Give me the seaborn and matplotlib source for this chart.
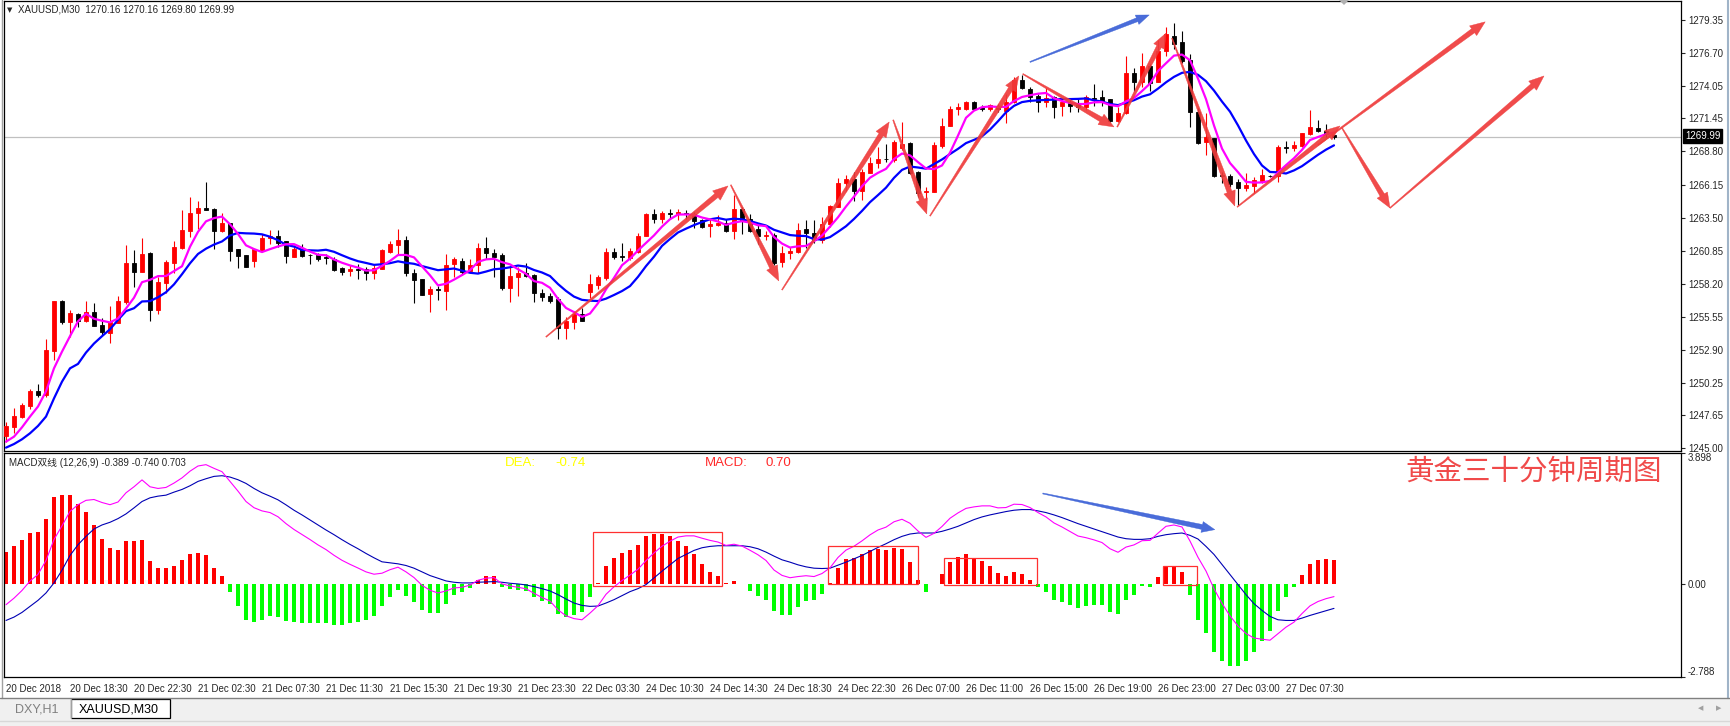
import numpy as np
import pandas as pd
import matplotlib
matplotlib.use('Agg')
import matplotlib.pyplot as plt
import seaborn as sns
from matplotlib.patches import Polygon, Rectangle
from matplotlib.transforms import IdentityTransform

# ---------------- data (XAUUSD M30) ----------------
opens = [
    1245.99, 1246.73, 1247.54, 1248.39, 1249.62, 1249.27, 1252.83, 1256.81, 1255.16, 1255.77,
    1255.23, 1255.90, 1254.89, 1254.27, 1255.07, 1256.73, 1259.84, 1259.16, 1260.64, 1256.09,
    1258.23, 1259.89, 1261.04, 1262.45, 1263.84, 1264.24, 1264.16, 1262.42, 1263.04, 1260.96,
    1260.50, 1259.98, 1260.85, 1261.89, 1262.02, 1261.62, 1260.37, 1261.01, 1260.53, 1260.53,
    1260.37, 1260.21, 1259.48, 1259.19, 1259.41, 1259.35, 1259.03, 1259.41, 1260.77, 1261.33,
    1261.70, 1259.06, 1258.60, 1257.40, 1257.77, 1257.64, 1259.75, 1260.02, 1259.22, 1259.70,
    1261.04, 1260.69, 1260.50, 1257.83, 1258.76, 1259.09, 1258.90, 1257.43, 1257.22, 1256.95,
    1254.62, 1255.10, 1255.77, 1257.56, 1258.12, 1258.63, 1260.77, 1260.42, 1260.29, 1260.72,
    1262.05, 1263.79, 1263.39, 1263.84, 1263.76, 1263.87, 1263.76, 1263.28, 1262.85, 1262.90,
    1263.09, 1262.45, 1264.19, 1263.36, 1262.59, 1262.02, 1262.10, 1259.91, 1260.64, 1260.74,
    1262.56, 1262.24, 1261.70, 1262.96, 1264.38, 1266.25, 1266.57, 1265.66, 1267.10, 1267.85,
    1268.22, 1268.14, 1269.06, 1269.46, 1267.16, 1265.53, 1265.58, 1269.24, 1270.87, 1272.18,
    1272.18, 1272.80, 1272.34, 1272.18, 1272.45, 1272.08, 1272.80, 1274.54, 1273.79, 1273.25,
    1272.80, 1273.15, 1272.45, 1272.72, 1272.53, 1272.34, 1273.12, 1273.20, 1272.99, 1271.27,
    1271.86, 1275.07, 1274.40, 1275.66, 1274.40, 1276.89, 1278.06, 1277.58, 1276.14, 1272.00,
    1269.59, 1269.86, 1266.92, 1266.86, 1266.36, 1265.85, 1266.06, 1266.44, 1266.86, 1266.86,
    1269.19, 1269.06, 1269.27, 1270.21, 1270.71, 1270.45, 1270.16]
highs = [
    1247.14, 1248.26, 1248.61, 1249.73, 1250.16, 1253.77, 1256.81, 1256.89, 1256.09, 1255.82,
    1256.81, 1256.62, 1255.48, 1256.44, 1257.24, 1261.30, 1260.90, 1261.84, 1260.77, 1258.76,
    1260.10, 1261.65, 1264.11, 1265.18, 1264.83, 1266.36, 1264.24, 1263.84, 1263.09, 1261.01,
    1260.50, 1261.01, 1262.18, 1262.50, 1262.50, 1261.65, 1261.30, 1261.36, 1260.60, 1260.69,
    1260.60, 1260.32, 1259.56, 1259.70, 1259.78, 1259.56, 1259.70, 1261.01, 1261.65, 1262.59,
    1262.02, 1259.38, 1258.60, 1258.04, 1258.04, 1260.58, 1260.31, 1260.26, 1260.15, 1261.49,
    1261.92, 1260.96, 1260.63, 1259.57, 1259.51, 1259.83, 1258.98, 1257.75, 1257.43, 1257.16,
    1255.56, 1256.04, 1256.22, 1258.98, 1258.90, 1261.04, 1261.04, 1261.49, 1261.04, 1262.24,
    1263.84, 1264.19, 1264.03, 1264.19, 1264.19, 1264.11, 1263.98, 1263.36, 1263.36, 1263.71,
    1263.36, 1265.31, 1264.38, 1263.76, 1262.91, 1262.45, 1262.24, 1261.22, 1261.12, 1263.04,
    1263.31, 1263.31, 1263.52, 1264.51, 1266.70, 1266.92, 1267.18, 1267.40, 1268.33, 1269.19,
    1269.40, 1269.72, 1271.19, 1269.59, 1267.21, 1265.98, 1269.59, 1271.46, 1272.45, 1272.72,
    1272.88, 1272.85, 1272.50, 1272.61, 1272.61, 1273.41, 1274.80, 1274.94, 1273.95, 1273.39,
    1273.87, 1273.28, 1272.93, 1272.93, 1273.01, 1273.31, 1274.22, 1273.73, 1273.04, 1272.34,
    1276.49, 1275.47, 1276.73, 1275.82, 1277.74, 1278.81, 1279.08, 1278.46, 1276.62, 1272.26,
    1271.92, 1269.91, 1267.18, 1266.99, 1266.57, 1267.05, 1266.78, 1267.40, 1266.92, 1269.32,
    1269.67, 1269.67, 1270.31, 1272.13, 1271.33, 1271.01, 1270.16]
lows = [
    1245.53, 1246.20, 1247.40, 1248.12, 1249.14, 1249.14, 1252.08, 1254.94, 1253.95, 1254.70,
    1255.16, 1254.83, 1254.09, 1253.42, 1255.02, 1256.55, 1257.91, 1259.16, 1255.23, 1255.74,
    1257.43, 1259.03, 1260.98, 1261.92, 1262.56, 1264.11, 1261.01, 1262.37, 1259.98, 1259.49,
    1259.51, 1259.56, 1260.77, 1261.38, 1261.12, 1259.86, 1260.32, 1260.32, 1259.78, 1259.99,
    1259.78, 1259.25, 1258.87, 1258.84, 1258.58, 1258.50, 1258.58, 1259.35, 1260.64, 1260.58,
    1258.84, 1256.68, 1257.27, 1255.96, 1256.89, 1256.09, 1258.71, 1258.90, 1259.03, 1259.03,
    1260.18, 1258.71, 1257.69, 1256.76, 1257.24, 1258.76, 1256.76, 1256.84, 1256.63, 1253.74,
    1253.79, 1254.54, 1255.18, 1257.03, 1257.77, 1258.50, 1260.18, 1260.05, 1260.10, 1260.64,
    1262.02, 1263.09, 1263.09, 1263.36, 1263.31, 1263.39, 1262.64, 1262.64, 1261.97, 1262.82,
    1262.37, 1261.81, 1262.18, 1262.37, 1261.38, 1261.70, 1259.70, 1259.57, 1260.15, 1260.64,
    1261.09, 1261.44, 1261.44, 1262.77, 1264.32, 1265.63, 1264.86, 1264.91, 1267.05, 1267.45,
    1267.99, 1267.99, 1268.92, 1267.00, 1265.18, 1264.91, 1265.53, 1269.05, 1270.85, 1271.73,
    1272.13, 1272.13, 1272.08, 1272.08, 1272.00, 1271.11, 1272.72, 1273.79, 1272.80, 1272.00,
    1272.40, 1271.51, 1271.67, 1272.00, 1272.00, 1272.13, 1272.45, 1272.45, 1271.17, 1271.19,
    1271.81, 1273.68, 1273.95, 1273.66, 1274.37, 1276.46, 1277.06, 1275.93, 1270.79, 1269.40,
    1268.52, 1266.73, 1266.25, 1265.98, 1264.51, 1265.66, 1265.50, 1266.25, 1266.78, 1266.38,
    1268.71, 1268.87, 1269.19, 1270.10, 1270.37, 1269.99, 1269.80]
closes = [
    1246.79, 1247.59, 1248.47, 1249.62, 1249.27, 1252.88, 1256.81, 1255.16, 1255.82, 1255.23,
    1255.90, 1254.83, 1254.35, 1255.16, 1256.81, 1259.89, 1259.16, 1260.58, 1256.09, 1258.31,
    1259.94, 1261.14, 1262.51, 1263.90, 1264.30, 1264.14, 1262.45, 1263.09, 1260.85, 1260.42,
    1259.56, 1260.96, 1261.89, 1262.02, 1261.49, 1260.45, 1261.01, 1260.45, 1260.48, 1260.21,
    1260.24, 1259.32, 1259.14, 1259.41, 1259.33, 1259.03, 1259.48, 1260.90, 1261.38, 1261.70,
    1259.06, 1258.50, 1257.32, 1257.77, 1257.67, 1259.70, 1260.15, 1259.16, 1259.70, 1261.04,
    1260.69, 1260.37, 1257.83, 1258.82, 1259.09, 1258.84, 1257.43, 1257.16, 1256.84, 1254.62,
    1255.21, 1255.77, 1255.24, 1258.18, 1258.76, 1260.77, 1260.37, 1260.32, 1260.82, 1262.05,
    1263.79, 1263.36, 1263.87, 1263.76, 1263.95, 1263.82, 1263.23, 1262.77, 1263.01, 1263.09,
    1262.45, 1264.19, 1263.31, 1262.45, 1262.02, 1262.10, 1259.83, 1260.69, 1260.85, 1262.51,
    1262.24, 1261.70, 1262.99, 1264.43, 1266.25, 1266.57, 1265.66, 1267.16, 1267.85, 1268.20,
    1268.17, 1269.59, 1269.38, 1267.10, 1265.50, 1265.63, 1269.32, 1270.85, 1272.21, 1272.37,
    1272.77, 1272.18, 1272.24, 1272.50, 1272.18, 1272.80, 1274.51, 1273.87, 1273.20, 1272.80,
    1273.09, 1272.40, 1272.74, 1272.45, 1272.34, 1273.14, 1273.04, 1272.85, 1271.27, 1271.86,
    1275.07, 1274.37, 1275.66, 1274.27, 1276.89, 1278.20, 1277.42, 1276.09, 1272.00, 1269.51,
    1269.99, 1266.84, 1266.84, 1266.20, 1265.85, 1266.11, 1266.52, 1266.92, 1266.81, 1269.19,
    1269.08, 1269.32, 1270.26, 1270.74, 1270.42, 1270.21, 1269.99]

# moving-average values at the left edge (their history is off-screen)
ma_fast_head = [1245.53, 1245.93, 1246.68, 1247.54]
ma_slow_head = [1245.05, 1245.34, 1245.72, 1246.20, 1246.79, 1247.54, 1249.00, 1250.34, 1251.41]

# MACD histogram (2*(DIF-DEA)) and DEA line
macd_hist = [
    0.94, 1.13, 1.31, 1.51, 1.55, 1.94, 2.59, 2.65, 2.63, 2.39,
    2.15, 1.76, 1.34, 1.05, 0.99, 1.26, 1.26, 1.29, 0.66, 0.46,
    0.46, 0.54, 0.69, 0.87, 0.92, 0.84, 0.48, 0.24, -0.26, -0.68,
    -1.08, -1.15, -1.08, -0.98, -1.01, -1.12, -1.15, -1.17, -1.17, -1.19,
    -1.17, -1.23, -1.23, -1.19, -1.15, -1.10, -0.98, -0.68, -0.41, -0.20,
    -0.38, -0.56, -0.80, -0.88, -0.88, -0.60, -0.34, -0.26, -0.13, 0.12,
    0.22, 0.24, -0.10, -0.16, -0.20, -0.23, -0.40, -0.53, -0.60, -0.91,
    -1.00, -0.93, -0.86, -0.40, 0.02, 0.52, 0.77, 0.90, 0.99, 1.16,
    1.43, 1.49, 1.49, 1.41, 1.28, 1.11, 0.87, 0.57, 0.36, 0.22,
    0.02, 0.09, -0.02, -0.21, -0.36, -0.50, -0.83, -0.93, -0.93, -0.70,
    -0.53, -0.50, -0.30, 0.02, 0.46, 0.72, 0.75, 0.87, 0.99, 1.04,
    0.99, 1.07, 1.02, 0.64, 0.12, -0.26, -0.02, 0.29, 0.64, 0.80,
    0.87, 0.76, 0.66, 0.54, 0.32, 0.24, 0.36, 0.30, 0.12, -0.10,
    -0.26, -0.48, -0.56, -0.65, -0.74, -0.68, -0.65, -0.65, -0.86, -0.91,
    -0.50, -0.33, -0.08, -0.10, 0.19, 0.50, 0.52, 0.36, -0.34, -1.09,
    -1.47, -2.05, -2.32, -2.47, -2.47, -2.32, -2.05, -1.72, -1.42, -0.83,
    -0.40, -0.10, 0.27, 0.57, 0.69, 0.72, 0.703]
macd_dea = [
    -1.10, -1.00, -0.86, -0.68, -0.50, -0.28, 0.02, 0.40, 0.84, 1.16,
    1.41, 1.63, 1.75, 1.83, 1.94, 2.08, 2.26, 2.45, 2.56, 2.61,
    2.64, 2.73, 2.81, 2.92, 3.05, 3.13, 3.20, 3.22, 3.18, 3.10,
    2.99, 2.84, 2.71, 2.61, 2.50, 2.35, 2.19, 2.05, 1.90, 1.75,
    1.60, 1.46, 1.31, 1.17, 1.04, 0.90, 0.77, 0.65, 0.62, 0.59,
    0.54, 0.46, 0.35, 0.24, 0.16, 0.08, 0.04, 0.02, 0.02, 0.04,
    0.05, 0.06, 0.04, 0.01, -0.01, -0.04, -0.09, -0.15, -0.22, -0.33,
    -0.46, -0.58, -0.65, -0.68, -0.67, -0.58, -0.48, -0.36, -0.24, -0.15,
    -0.03, 0.17, 0.37, 0.56, 0.75, 0.87, 0.99, 1.07, 1.11, 1.13,
    1.13, 1.13, 1.13, 1.10, 1.04, 0.94, 0.82, 0.71, 0.64, 0.56,
    0.50, 0.46, 0.45, 0.46, 0.55, 0.64, 0.74, 0.84, 0.96, 1.08,
    1.19, 1.31, 1.41, 1.48, 1.51, 1.51, 1.51, 1.56, 1.63, 1.71,
    1.81, 1.91, 1.99, 2.05, 2.10, 2.15, 2.19, 2.21, 2.21, 2.17,
    2.12, 2.05, 1.97, 1.88, 1.79, 1.71, 1.63, 1.55, 1.47, 1.39,
    1.34, 1.32, 1.32, 1.34, 1.41, 1.46, 1.49, 1.51, 1.44, 1.33,
    1.11, 0.87, 0.57, 0.27, -0.03, -0.33, -0.60, -0.80, -0.98, -1.08,
    -1.10, -1.10, -1.03, -0.95, -0.88, -0.81, -0.740]

price_ticks = [1245.00, 1247.65, 1250.25, 1252.90, 1255.55, 1258.20, 1260.85,
               1263.50, 1266.15, 1268.80, 1271.45, 1274.05, 1276.70, 1279.35]
macd_ticks = [3.898, 0.0, -2.788]
macd_tick_labels = ['3.898', '0.00', '-2.788']
time_tick_bars = list(range(0, 161, 8))
time_tick_labels = ['20 Dec 2018', '20 Dec 18:30', '20 Dec 22:30', '21 Dec 02:30', '21 Dec 07:30',
                    '21 Dec 11:30', '21 Dec 15:30', '21 Dec 19:30', '21 Dec 23:30', '22 Dec 03:30',
                    '24 Dec 10:30', '24 Dec 14:30', '24 Dec 18:30', '24 Dec 22:30', '26 Dec 07:00',
                    '26 Dec 11:00', '26 Dec 15:00', '26 Dec 19:00', '26 Dec 23:00', '27 Dec 03:00',
                    '27 Dec 07:30']
last_price = 1269.99

# hand-drawn annotation arrows: (bar0, price0, bar1, price1)
red_arrows = [(67.5, 1253.93, 90.25, 1266.04), (90.6, 1266.12, 96.6, 1258.42),
              (97.0, 1257.70, 110.4, 1271.17), (110.9, 1271.33, 115.1, 1263.79),
              (115.5, 1263.63, 126.6, 1274.86), (127.1, 1275.02, 138.5, 1270.77),
              (138.9, 1270.77, 145.0, 1278.29), (145.75, 1277.89, 153.6, 1264.43),
              (153.9, 1264.35, 166.75, 1270.85), (164.0, 1269.32, 184.9, 1279.20),
              (167.0, 1270.69, 173.0, 1264.27), (173.0, 1264.27, 192.25, 1274.86)]
blue_arrow_price = (128.0, 1275.98, 142.9, 1279.75)
blue_arrow_macd = (129.6, 2.69, 151.1, 1.61)
macd_boxes = [(73.4, -0.06, 89.5, 1.54), (102.8, -0.01, 114.05, 1.125),
              (117.3, -0.05, 128.9, 0.77), (144.6, -0.04, 148.9, 0.53)]

assert len(opens) == len(highs) == len(lows) == len(closes) == len(macd_hist) == len(macd_dea)

# ---------------- derived series ----------------
df = pd.DataFrame({'open': opens, 'high': highs, 'low': lows, 'close': closes})
df['bar'] = np.arange(len(df))
ma_fast = df['close'].rolling(5).mean().to_numpy()
ma_fast[:len(ma_fast_head)] = ma_fast_head
ma_slow = df['close'].rolling(10).mean().to_numpy()
ma_slow[:len(ma_slow_head)] = ma_slow_head
hist = np.array(macd_hist)
dea = np.array(macd_dea)
dif = dea + hist / 2

# ---------------- figure ----------------
sns.set_style('white')
plt.rcParams['font.family'] = ['Liberation Sans', 'Noto Sans CJK SC', 'DejaVu Sans']

W, H = 1730, 726
fig = plt.figure(figsize=(W / 100, H / 100), dpi=100)
fig.patch.set_facecolor('white')


def fx(px):
    return px / W


def fy(py):
    return 1 - py / H


ax = fig.add_axes([fx(4), fy(451), fx(1681) - fx(4), fy(1) - fy(451)])
axm = fig.add_axes([fx(4), fy(677), fx(1681) - fx(4), fy(453) - fy(677)])

x_left, x_right = -0.25, 209.375
for a in (ax, axm):
    a.set_xlim(x_left, x_right)
    for s in a.spines.values():
        s.set_color('black')
        s.set_linewidth(0.9)
ax.set_ylim(1244.78, 1280.87)
axm.set_ylim(-2.788, 3.898)

# price panel
ax.axhline(last_price, color='#c0c0c0', lw=0.9, zorder=0)
up = df['close'] >= df['open']
cols = np.where(up, '#ff0000', '#000000')
ax.vlines(df['bar'], df['low'], df['high'], colors=cols, lw=0.8, zorder=2)
body_lo = np.minimum(df['open'], df['close'])
body_h = np.abs(df['close'] - df['open'])
ax.bar(df['bar'], body_h, bottom=body_lo, width=0.6, color=cols, edgecolor=cols,
       linewidth=0.6, zorder=3)
sns.lineplot(x=df['bar'], y=ma_slow, ax=ax, color='#0000ff', linewidth=1.6, zorder=4)
sns.lineplot(x=df['bar'], y=ma_fast, ax=ax, color='#ff00ff', linewidth=1.6, zorder=5)

ax.yaxis.tick_right()
ax.set_yticks(price_ticks)
ax.set_yticklabels([f'{v:.2f}' for v in price_ticks])
ax.tick_params(axis='y', labelsize=7, length=3, width=0.8, pad=2, direction='out')
ax.tick_params(axis='x', bottom=False, labelbottom=False)
ax.set_xlabel('')
ax.set_ylabel('')

# MACD panel
hcols = np.where(hist >= 0, '#ff0000', '#00ff00')
axm.bar(df['bar'], hist, width=0.5, color=hcols, linewidth=0, zorder=2)
sns.lineplot(x=df['bar'], y=dea, ax=axm, color='#0000b4', linewidth=0.8, zorder=3)
sns.lineplot(x=df['bar'], y=dif, ax=axm, color='#ff00ff', linewidth=0.8, zorder=4)
axm.yaxis.tick_right()
axm.set_yticks(macd_ticks)
axm.set_yticklabels(macd_tick_labels)
axm.tick_params(axis='y', labelsize=7, length=3, width=0.8, pad=2, direction='out')
ylabs = axm.get_yticklabels()
ylabs[0].set_va('top')
ylabs[2].set_va('bottom')
axm.set_xticks(time_tick_bars)
axm.set_xticklabels(time_tick_labels, ha='left')
axm.tick_params(axis='x', labelsize=7, length=3, width=0.8, pad=2, direction='out')
axm.set_xlabel('')
axm.set_ylabel('')

for (b0, v0, b1, v1) in macd_boxes:
    axm.add_patch(Rectangle((b0, v0), b1 - b0, v1 - v0, fill=False, ec='#ff3030', lw=0.9, zorder=6))

fig.canvas.draw()


def taper_arrow(a, x0, y0, x1, y1, color, neck=5.0, head_w=12.0, head_l=15.0):
    p0 = a.transData.transform((x0, y0))
    p1 = a.transData.transform((x1, y1))
    d = p1 - p0
    u = d / np.hypot(*d)
    n = np.array([-u[1], u[0]])
    b = p1 - u * head_l
    pts = [p0 + n * 0.5, b + n * neck / 2, b + n * head_w / 2, p1,
           b - n * head_w / 2, b - n * neck / 2, p0 - n * 0.5]
    fig.add_artist(Polygon(pts, closed=True, transform=IdentityTransform(),
                           fc=color, ec=color, lw=0.3, alpha=0.92, zorder=20))


for arr in red_arrows:
    taper_arrow(ax, *arr, color='#ef3b3b')
taper_arrow(ax, *blue_arrow_price, color='#3a60d6', neck=4, head_w=10, head_l=13)
taper_arrow(axm, *blue_arrow_macd, color='#3a60d6', neck=5, head_w=11, head_l=13)

# texts
fig.text(fx(7), fy(10), '\u25bc', fontsize=5, va='center', family='DejaVu Sans')
fig.text(fx(18), fy(10), 'XAUUSD,M30  1270.16 1270.16 1269.80 1269.99', fontsize=7, va='center')
fig.text(fx(9), fy(463), 'MACD\u53cc\u7ebf (12,26,9) -0.389 -0.740 0.703', fontsize=7, va='center')
fig.text(fx(505), fy(463), 'DEA:', fontsize=9.5, color='#ffff00', va='center')
fig.text(fx(555), fy(463), '-0.74', fontsize=9.5, color='#ffff00', va='center')
fig.text(fx(705), fy(463), 'MACD:', fontsize=9.5, color='#ff2a2a', va='center')
fig.text(fx(765), fy(463), '0.70', fontsize=9.5, color='#ff2a2a', va='center')
fig.text(fx(1405), fy(472), '\u9ec4\u91d1\u4e09\u5341\u5206\u949f\u5468\u671f\u56fe', fontsize=20.5,
         color='#f04a4a', va='center', family=['Noto Sans CJK SC'], fontweight='light')
fig.text(fx(1685), fy(136), f'{last_price:.2f}', fontsize=7, color='white', va='center',
         bbox=dict(fc='black', ec='black', pad=1.2))

# MT4 chrome: window edges, shift marker, tab bar
fig.add_artist(plt.Line2D([fx(1.5), fx(1.5)], [fy(0), fy(698)], color='#a0a0a0', lw=1))
fig.add_artist(plt.Line2D([fx(1728), fx(1728)], [fy(0), fy(698)], color='#a0b4c8', lw=1.5))
fig.add_artist(Polygon([[fx(1339), fy(0)], [fx(1349), fy(0)], [fx(1344), fy(5)]],
                       transform=fig.transFigure, fc='#b0b0b0', ec='none'))
fig.add_artist(Rectangle((0, fy(726)), 1, fy(698) - fy(726), transform=fig.transFigure,
                         fc='#f0f0f0', ec='none', zorder=0))
fig.add_artist(plt.Line2D([0, 1], [fy(698), fy(698)], color='#808080', lw=1))
fig.add_artist(plt.Line2D([0, 1], [fy(721), fy(721)], color='#d8d8d8', lw=1))
fig.add_artist(Rectangle((fx(71), fy(718)), fx(170) - fx(71), fy(699) - fy(718),
                         transform=fig.transFigure, fc='white', ec='black', lw=0.9))
fig.add_artist(plt.Line2D([fx(71), fx(71)], [fy(699), fy(718)], color='#a0a0a0', lw=0.8))
fig.text(fx(15), fy(709), 'DXY,H1', fontsize=9, color='#808080', va='center')
fig.text(fx(79), fy(709), 'XAUUSD,M30', fontsize=9, color='black', va='center')
fig.text(fx(1698), fy(708), '\u25c0', fontsize=5, color='#a0a0a0', va='center', family='DejaVu Sans')
fig.text(fx(1716), fy(708), '\u25b6', fontsize=5, color='#a0a0a0', va='center', family='DejaVu Sans')

fig.savefig('out.png', dpi=100)
